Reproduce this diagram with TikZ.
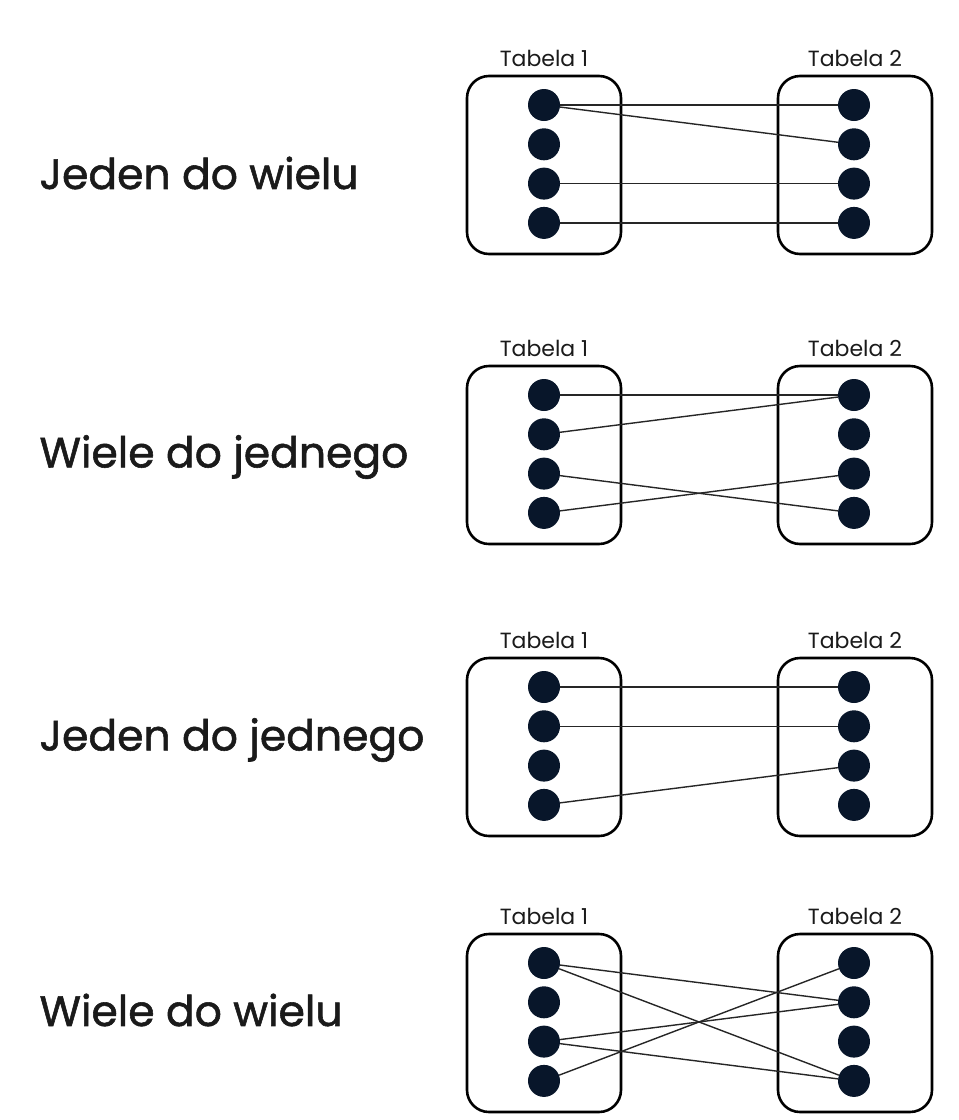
\documentclass[tikz,border=0pt]{standalone}
\usepackage{fontspec}
\setmainfont{Poppins}
\newfontfamily\titlefont[FakeBold=1.3]{Poppins}
\definecolor{dotc}{RGB}{8,22,42}
\definecolor{txt}{RGB}{26,26,26}
\begin{document}
\begin{tikzpicture}[x=1pt,y=-1pt,
  tbox/.style={draw=black,line width=2.6pt,rounded corners=22pt,minimum width=154pt,minimum height=178pt,inner sep=0pt},
  dot/.style={circle,fill=dotc,minimum size=32pt,inner sep=0pt},
  tlabel/.style={font=\fontsize{22}{24}\selectfont,text=txt},
  title/.style={font=\titlefont\fontsize{42.5}{46}\selectfont,text=txt,anchor=west},
  link/.style={line width=1.4pt,draw=black!85}]
\useasboundingbox (0,0) rectangle (959,1120);
\foreach \p/\top/\ty/\tt in {1/75/173/Jeden do wielu,2/365/457/Wiele do jednego,3/657/740/Jeden do jednego,4/933/1010/Wiele do wielu}{
  \node[title] (title\p) at (36,\ty) {\tt};
  \node[tbox] (boxL\p) at (544,\top+90) {};
  \node[tbox] (boxR\p) at (855,\top+90) {};
  \node[tlabel] (labL\p) at (544,\top-17) {Tabela 1};
  \node[tlabel] (labR\p) at (855,\top-17) {Tabela 2};
  \foreach \i in {1,2,3,4}{
    \node[dot] (L\p-\i) at (544,\top+30+39.3*\i-39.3) {};
    \node[dot] (R\p-\i) at (854,\top+30+39.3*\i-39.3) {};
  }
}
% Panel 1
\draw[link] (L1-1) -- (R1-1);
\draw[link] (L1-1) -- (R1-2);
\draw[link] (L1-3) -- (R1-3);
\draw[link] (L1-4) -- (R1-4);
% Panel 2
\draw[link] (L2-1) -- (R2-1);
\draw[link] (L2-2) -- (R2-1);
\draw[link] (L2-3) -- (R2-4);
\draw[link] (L2-4) -- (R2-3);
% Panel 3
\draw[link] (L3-1) -- (R3-1);
\draw[link] (L3-2) -- (R3-2);
\draw[link] (L3-4) -- (R3-3);
% Panel 4
\draw[link] (L4-1) -- (R4-2);
\draw[link] (L4-1) -- (R4-4);
\draw[link] (L4-3) -- (R4-2);
\draw[link] (L4-3) -- (R4-4);
\draw[link] (L4-4) -- (R4-1);
\end{tikzpicture}
\end{document}
